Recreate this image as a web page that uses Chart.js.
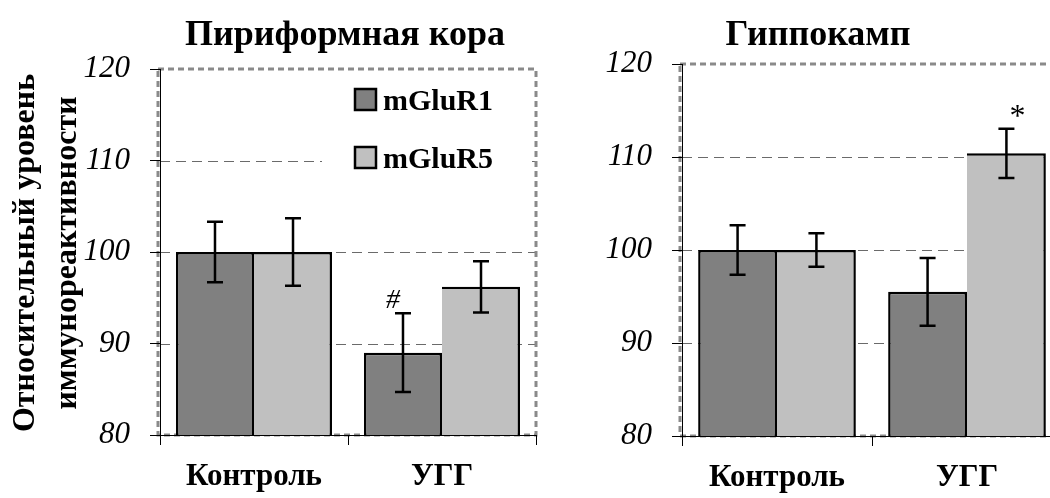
<!DOCTYPE html>
<html>
<head>
<meta charset="utf-8">
<script src="https://cdn.jsdelivr.net/npm/chart.js@4/dist/chart.umd.min.js"></script>
<style>
  html, body { margin: 0; padding: 0; background: #fff; overflow: hidden; width: 1050px; height: 498px; }
  canvas { position: absolute; top: 0; }
  #left { left: 0; }
  #right { left: 560px; }
</style>
</head>
<body>
<canvas id="left" width="560" height="498"></canvas>
<canvas id="right" width="520" height="498"></canvas>
<script>
// ---- data ----
const categories = ['Контроль', 'УГГ'];
const seriesNames = ['mGluR1', 'mGluR5'];

const piriformR1 = [100, 89.0];
const piriformR1Err = [3.3, 4.3];
const piriformR5 = [100, 96.2];
const piriformR5Err = [3.7, 2.8];

const hippoR1 = [100, 95.5];
const hippoR1Err = [2.65, 3.65];
const hippoR5 = [100, 110.4];
const hippoR5Err = [1.8, 2.65];

const yMin = 80, yMax = 120, yStep = 10;
const titles = ['Пириформная кора', 'Гиппокамп'];
const yTitleLines = ['Относительный уровень', 'иммунореактивности'];

// significance marks: [series index, category index, symbol]
const piriformMarks = [[0, 1, '#']];
const hippoMarks = [[1, 1, '*']];

// ---- styling ----
const SERIF = "'Liberation Serif', 'Times New Roman', serif";
const colors = ['#808080', '#c0c0c0'];

const panelDecor = {
  id: 'panelDecor',
  beforeDraw(chart, args, o) {
    const { ctx, chartArea: a } = chart;
    const y = chart.scales.y;
    ctx.save();
    // dashed grid at the inner ticks
    ctx.strokeStyle = '#6a6a6a';
    ctx.lineWidth = 1;
    ctx.setLineDash([10, 6]);
    for (let v = yMin + yStep; v < yMax; v += yStep) {
      const py = Math.round(y.getPixelForValue(v)) + 0.5;
      ctx.beginPath();
      ctx.moveTo(a.left, py);
      ctx.lineTo(a.right, py);
      ctx.stroke();
    }
    // grey dashed frame around the plot area
    ctx.strokeStyle = '#8a8a8a';
    ctx.lineWidth = 3;
    ctx.setLineDash([6, 4]);
    ctx.strokeRect(a.left - 2, a.top, a.right - a.left + 2, a.bottom - a.top);
    ctx.restore();
  },
  afterDatasetsDraw(chart, args, o) {
    const { ctx } = chart;
    const y = chart.scales.y;
    ctx.save();
    // error bars
    ctx.strokeStyle = '#000';
    ctx.lineWidth = 2.5;
    ctx.setLineDash([]);
    chart.data.datasets.forEach((ds, di) => {
      const meta = chart.getDatasetMeta(di);
      meta.data.forEach((bar, ci) => {
        const v = ds.data[ci], e = o.errors[di][ci];
        const x = bar.x;
        const yt = y.getPixelForValue(v + e), yb = y.getPixelForValue(v - e);
        const c = o.capWidth / 2;
        ctx.beginPath();
        ctx.moveTo(x, yt); ctx.lineTo(x, yb);
        ctx.moveTo(x - c, yt); ctx.lineTo(x + c, yt);
        ctx.moveTo(x - c, yb); ctx.lineTo(x + c, yb);
        ctx.stroke();
      });
    });
    // significance marks above error bars
    ctx.fillStyle = '#000';
    ctx.textAlign = 'center';
    ctx.textBaseline = 'alphabetic';
    o.marks.forEach(([di, ci, sym], k) => {
      const bar = chart.getDatasetMeta(di).data[ci];
      const v = chart.data.datasets[di].data[ci] + o.errors[di][ci];
      const st = o.markStyle[k];
      ctx.font = st.font;
      ctx.fillText(sym, bar.x + st.dx, y.getPixelForValue(v) - st.dy);
    });
    ctx.restore();
  },
  afterDraw(chart, args, o) {
    const { ctx } = chart;
    ctx.save();
    ctx.fillStyle = '#000';
    ctx.setLineDash([]);
    // panel title
    ctx.font = 'bold 36px ' + SERIF;
    ctx.textAlign = 'center';
    ctx.textBaseline = 'alphabetic';
    ctx.fillText(o.title, o.titleX, 45);
    // legend
    if (o.legend) {
      const L = o.legend;
      ctx.fillStyle = '#fff';
      ctx.fillRect(L.boxX, L.boxY, L.boxW, L.boxH);
      chart.data.datasets.forEach((ds, i) => {
        const sy = L.y + i * L.gap;
        ctx.fillStyle = ds.backgroundColor;
        ctx.fillRect(L.x, sy, L.size, L.size);
        ctx.strokeStyle = '#000';
        ctx.lineWidth = 2.5;
        ctx.strokeRect(L.x, sy, L.size, L.size);
        ctx.fillStyle = '#000';
        ctx.font = 'bold 30px ' + SERIF;
        ctx.textAlign = 'left';
        ctx.textBaseline = 'alphabetic';
        ctx.fillText(ds.label, L.x + L.size + 7, sy + L.size);
      });
    }
    // rotated two-line axis title
    if (o.yTitle) {
      ctx.font = 'bold 32px ' + SERIF;
      ctx.textAlign = 'center';
      ctx.textBaseline = 'middle';
      o.yTitle.lines.forEach((line, i) => {
        ctx.save();
        ctx.translate(o.yTitle.xs[i], o.yTitle.cy);
        ctx.rotate(-Math.PI / 2);
        ctx.fillText(line, 0, 0);
        ctx.restore();
      });
    }
    ctx.restore();
  }
};

function makePanel(canvasId, r1, r5, errs, marks, deco, box) {
  return new Chart(document.getElementById(canvasId), {
    type: 'bar',
    data: {
      labels: categories,
      datasets: [
        { label: seriesNames[0], data: r1, backgroundColor: colors[0], borderColor: '#000',
          borderWidth: { top: 2.5, left: 2.5, right: 2.5, bottom: 0 } },
        { label: seriesNames[1], data: r5, backgroundColor: colors[1], borderColor: '#000',
          borderWidth: { top: 2.5, left: 0, right: 2.5, bottom: 0 } }
      ]
    },
    options: {
      responsive: false,
      animation: false,
      layout: { padding: { top: box.top, right: box.right, left: 0, bottom: 0 } },
      datasets: { bar: { categoryPercentage: 0.83, barPercentage: 1.0 } },
      scales: {
        x: {
          afterFit(s) { s.height = box.xHeight; },
          grid: { offset: true, drawOnChartArea: false, drawTicks: true, tickLength: 10, tickColor: '#000', tickWidth: 1 },
          border: { display: true, color: '#000', width: 1 },
          ticks: { color: '#000', padding: 13, font: { family: SERIF, size: 31, weight: 'bold' } }
        },
        y: {
          min: yMin, max: yMax,
          afterFit(s) { s.width = box.yWidth; },
          grid: { drawOnChartArea: false, drawTicks: true, tickLength: 10, tickColor: '#000', tickWidth: 1 },
          border: { display: true, color: '#000', width: 1 },
          ticks: { stepSize: yStep, color: '#000', padding: 20, font: { family: SERIF, size: 31, style: 'italic' } }
        }
      },
      plugins: {
        legend: { display: false },
        tooltip: { enabled: false },
        panelDecor: Object.assign({ errors: errs, marks: marks, capWidth: 16 }, deco)
      }
    },
    plugins: [panelDecor]
  });
}

makePanel('left', piriformR1, piriformR5, [piriformR1Err, piriformR5Err], piriformMarks, {
  title: titles[0], titleX: 345,
  markStyle: [{ dx: -10, dy: 5, font: 'italic 28px ' + SERIF }],
  legend: { boxX: 322, boxY: 73, boxW: 210, boxH: 124, x: 355, y: 89, size: 21, gap: 58 },
  yTitle: { lines: yTitleLines, xs: [26, 68], cy: 253 }
}, { top: 69, right: 24, yWidth: 160, xHeight: 63 });

makePanel('right', hippoR1, hippoR5, [hippoR1Err, hippoR5Err], hippoMarks, {
  title: titles[1], titleX: 258,
  markStyle: [{ dx: 11, dy: 3, font: '32px ' + SERIF }],
  legend: null,
  yTitle: null
}, { top: 64, right: 18, yWidth: 122, xHeight: 62 });
</script>
</body>
</html>
